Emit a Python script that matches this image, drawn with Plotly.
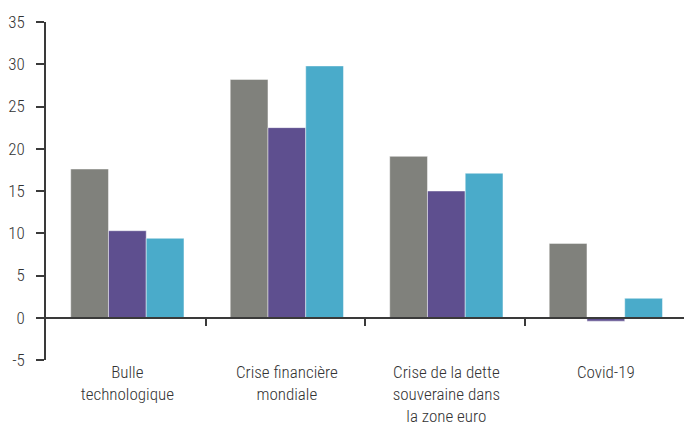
import plotly.graph_objects as go

categories = ["Bulle<br>technologique", "Crise financière<br>mondiale",
              "Crise de la dette<br>souveraine dans<br>la zone euro", "Covid-19"]
series_a = [17.6, 28.2, 19.1, 8.8]
series_b = [10.3, 22.5, 15.0, -0.4]
series_c = [9.4, 29.8, 17.1, 2.3]
y_ticks = [-5, 0, 5, 10, 15, 20, 25, 30, 35]
y_tick_text = ["-5", "0", "5", "10", "15", "20", "25", "30", "35"]

colors = ["#80817c", "#5e4f8f", "#4aabca"]
FONT = "Roboto Condensed, Liberation Sans Narrow, Roboto, sans-serif"
AX = "#3a3a3a"

fig = go.Figure()
for vals, col in zip([series_a, series_b, series_c], colors):
    fig.add_trace(go.Bar(x=categories, y=vals, marker=dict(color=col,
                  line=dict(color="rgba(255,255,255,0.45)", width=1)),
                  showlegend=False))
# invisible trace to activate helper x axis for the zero-line ticks
fig.add_trace(go.Scatter(x=[0], y=[0], xaxis="x2", mode="markers",
                         marker=dict(opacity=0), showlegend=False, hoverinfo="skip"))

tf = dict(family=FONT, size=17, color="#333333", weight=300)
fig.update_layout(
    width=684, height=425,
    margin=dict(l=46, r=0, t=22, b=65),
    paper_bgcolor="white", plot_bgcolor="white",
    barmode="group", bargap=0.29, bargroupgap=0,
    font=tf,
    xaxis=dict(type="category", categoryarray=categories, range=[-0.51, 3.49],
               showline=False, ticks="", showgrid=False, zeroline=False,
               tickfont=tf, ticklabelstandoff=0, automargin=False),
    xaxis2=dict(overlaying="x", anchor="free", position=0.125, range=[-0.5, 3.5],
                showline=True, linecolor=AX, linewidth=1.5,
                ticks="outside", ticklen=7, tickcolor=AX, tickwidth=1.5,
                tickvals=[0.5, 1.5, 2.5], showticklabels=False,
                showgrid=False, zeroline=False, automargin=False),
    yaxis=dict(range=[-5, 35], tickvals=y_ticks, ticktext=y_tick_text,
               showline=True, linecolor=AX, automargin=False,
               linewidth=1.5, ticks="outside", ticklen=8, tickcolor=AX, tickwidth=1.5,
               showgrid=False, zeroline=False, ticklabelstandoff=8,
               tickfont=tf),
)
fig.write_html("out.html")
